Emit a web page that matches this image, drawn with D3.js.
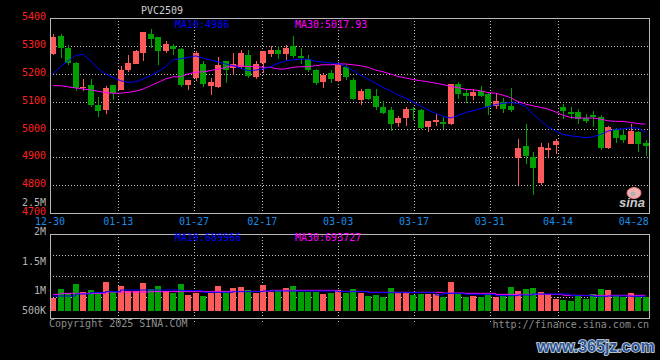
<!DOCTYPE html>
<html><head><meta charset="utf-8">
<script src="https://cdn.jsdelivr.net/npm/d3@7/dist/d3.min.js"></script>
<style>html,body{margin:0;padding:0;background:#000;}svg{display:block;}</style>
</head><body>
<svg id="chart" width="660" height="360"></svg>
<script>
const title = "PVC2509";
const dates = ["12-30","12-31","01-02","01-03","01-06","01-07","01-08","01-09","01-10","01-13","01-14","01-15","01-16","01-17","01-20","01-21","01-22","01-23","01-24","01-27",
"02-05","02-06","02-07","02-10","02-11","02-12","02-13","02-14","02-17","02-18","02-19","02-20","02-21","02-24","02-25","02-26","02-27","02-28",
"03-03","03-04","03-05","03-06","03-07","03-10","03-11","03-12","03-13","03-14","03-17","03-18","03-19","03-20","03-21","03-24","03-25","03-26","03-27","03-28","03-31",
"04-01","04-02","04-03","04-07","04-08","04-09","04-10","04-11","04-14","04-15","04-16","04-17","04-18","04-21","04-22","04-23","04-24","04-25","04-28","04-29","04-30"];
const open = [5270,5337,5292,5240,5151,5161,5089,5070,5158,5142, 5213,5234,5274,5344,5330,5280,5300,5287,5160,5184, 5234,5155,5151,5244,5220,5225,5268,5190,5240,5270, 5284,5270,5298,5262,5252,5213,5169,5201,5175,5223, 5179,5106,5144,5121,5082,5068,5023,5042,5074,5068, 5008,5026,5026,5019,5162,5130,5120,5137,5126,5084, 5100,5084,4898,4942,4901,4808,4926,4944,5081,5063, 5063,5040,5052,5046,4933,5001,4981,4948,4990,4951];
const close = [5330,5292,5237,5149,5154,5087,5066,5149,5130,5213, 5240,5280,5349,5326,5282,5308,5288,5161,5177,5273, 5163,5169,5232,5214,5234,5276,5193,5234,5280,5284, 5270,5294,5262,5255,5213,5166,5195,5181,5232,5187, 5110,5137,5110,5082,5058,5020,5042,5074,5068,5006, 5030,5034,5020,5162,5126,5120,5134,5120,5081,5102, 5073,5069,4933,4904,4862,4937,4933,4957,5067,5057, 5037,5029,5046,4933,5010,4969,4962,4995,4948,4942];
const high = [5342,5342,5304,5243,5181,5181,5116,5157,5160,5227, 5266,5284,5351,5362,5330,5318,5306,5291,5177,5282, 5246,5183,5261,5246,5276,5285,5285,5246,5280,5300, 5300,5304,5337,5292,5268,5216,5201,5213,5241,5232, 5185,5145,5144,5145,5101,5080,5050,5080,5080,5074, 5032,5056,5046,5164,5171,5142,5146,5156,5132,5130, 5114,5148,4966,5019,4918,4951,4951,4966,5091,5082, 5073,5057,5067,5052,5013,5004,5001,5019,4995,4963];
const low = [5268,5256,5232,5137,5139,5080,5044,5056,5106,5140, 5206,5234,5246,5292,5232,5274,5268,5151,5142,5175, 5151,5124,5149,5166,5199,5217,5185,5181,5201,5261, 5252,5249,5258,5235,5206,5161,5149,5168,5172,5177, 5106,5089,5104,5068,5056,4996,5008,5012,5035,5003, 4991,5011,5002,5015,5111,5096,5106,5118,5052,5075, 5060,5061,4802,4876,4766,4802,4900,4911,5037,5037, 5021,5023,5007,4927,4930,4951,4951,4947,4920,4906];
const ma10 = [5199,5226,5246,5266,5270,5246,5219,5199,5187,5175, 5169,5171,5181,5193,5207,5225,5250,5254,5258,5264, 5256,5249,5243,5235,5229,5220,5211,5213,5217,5225, 5237,5246,5250,5252,5252,5244,5242,5238,5237,5226, 5211,5195,5180,5166,5151,5139,5124,5113,5098,5085, 5070,5058,5047,5041,5050,5061,5067,5075,5082,5089, 5094,5096,5094,5082,5055,5031,5010,4994,4982,4977, 4974,4970,4974,4982,4994,5000,5002,5006,5005,4990];
const ma30 = [5157,5157,5153,5149,5145,5142,5137,5132,5130,5130, 5133,5137,5145,5157,5169,5181,5189,5189,5199,5205, 5207,5211,5217,5222,5228,5228,5226,5225,5223,5223, 5217,5217,5223,5225,5225,5229,5232,5232,5235,5235, 5232,5229,5223,5213,5207,5199,5190,5185,5179,5175, 5171,5166,5161,5155,5150,5144,5142,5139,5132,5130, 5123,5114,5100,5091,5085,5079,5073,5063,5051,5043, 5041,5041,5041,5037,5031,5029,5029,5025,5021,5019];
const volume = [555000,917000,738000,1138000,805000,875000,805000,1221000,805000,1042000, 846000,833000,1180000,904000,1042000,833000,738000,1125000,667000,738000, 638000,738000,1042000,833000,958000,1000000,875000,763000,1083000,805000, 875000,958000,1042000,805000,805000,805000,708000,738000,875000,738000, 917000,738000,638000,667000,596000,958000,779000,779000,667000,708000, 708000,708000,596000,1208000,738000,596000,638000,596000,708000,596000, 638000,1000000,833000,917000,958000,805000,708000,500000,458000,417000, 667000,500000,708000,917000,875000,667000,596000,750000,596000,596000];
const volMa10 = [625000,625000,625000,708000,708000,764000,764000,806000,806000,875000, 875000,875000,875000,875000,875000,875000,875000,847000,847000,847000, 778000,778000,778000,778000,806000,806000,806000,806000,833000,833000, 833000,833000,833000,833000,833000,833000,833000,833000,806000,806000, 806000,806000,764000,764000,764000,764000,764000,764000,764000,764000, 764000,667000,736000,736000,736000,694000,694000,694000,694000,639000, 639000,639000,667000,667000,708000,708000,708000,708000,708000,639000, 639000,639000,611000,611000,625000,625000,625000,611000,611000,611000];
const volMa30 = [694000,736000,736000,736000,736000,736000,736000,792000,792000,792000, 792000,792000,792000,806000,806000,806000,806000,806000,806000,806000, 806000,819000,819000,819000,819000,819000,819000,819000,819000,861000, 861000,861000,861000,861000,861000,861000,861000,861000,819000,819000, 819000,819000,778000,778000,778000,778000,778000,778000,778000,778000, 778000,778000,750000,750000,750000,736000,736000,736000,736000,694000, 694000,694000,694000,694000,694000,694000,694000,694000,653000,653000, 653000,653000,653000,653000,653000,653000,653000,653000,653000,653000];
const priceTicks = [5400,5300,5200,5100,5000,4900,4800,4700];
const volTicks = [2500000,2000000,1500000,1000000,500000];
const volTickLabels = ["2.5M","2M","1.5M","1M","500K"];
const dateTicks = ["12-30","01-13","01-27","02-17","03-03","03-17","03-31","04-14","04-28"];
const priceLegend = ["MA10:4986","MA30:5017.93"];
const volLegend = ["MA10:689966","MA30:693727"];
const copyright = "Copyright 2025 SINA.COM";
const siteUrl = "http://finance.sina.com.cn";
const watermark = "www.365jz.com";

const svg = d3.select("#chart");
const L = 50, R = 649.5;
const pTop = 18, pBot = 213, vTop = 234, vBot = 318, vBase = 311;
const UP = "#ff5a5a", DOWN = "#00a000", GRID = "#c4c4c4", BORDER = "#b8b8b8";
const FONT = "'DejaVu Sans Mono', monospace";

svg.append("rect").attr("width",660).attr("height",360).attr("fill","#000");

const xb = d3.scaleBand().domain(dates).range([50, 650]).padding(0);
const xp = d3.scalePoint().domain(dates).range([50, 649]);
const y = d3.scaleLinear().domain([4700, 5400]).range([pBot, pTop]);
const yv = d3.scaleLinear().domain([0, 1000000]).range([vBase, 287]);
const yvLabel = d3.scaleLinear().domain([1000000, 2000000]).range([290.7, 231.7]);

const crisp = v => Math.round(v) + 0.5;

// price grid
const g = svg.append("g");
g.selectAll(".hg").data(priceTicks.slice(1, -1)).join("line")
  .attr("x1", L).attr("x2", R).attr("y1", d => crisp(y(d))).attr("y2", d => crisp(y(d)))
  .attr("stroke", GRID).attr("stroke-dasharray", "1,2");
const innerDates = dateTicks.slice(1, -1);
g.selectAll(".vg").data(innerDates).join("line")
  .attr("x1", d => crisp(xp(d))).attr("x2", d => crisp(xp(d))).attr("y1", pTop).attr("y2", pBot)
  .attr("stroke", GRID).attr("stroke-dasharray", "1,2");
// volume grid
g.selectAll(".vhg").data([1500000, 1000000, 500000]).join("line")
  .attr("x1", L).attr("x2", R)
  .attr("y1", (d,i) => crisp(vTop + (vBot - vTop) * (i + 1) / 4)).attr("y2", (d,i) => crisp(vTop + (vBot - vTop) * (i + 1) / 4))
  .attr("stroke", GRID).attr("stroke-dasharray", "1,2");
g.selectAll(".vvg").data(innerDates).join("line")
  .attr("x1", d => crisp(xp(d))).attr("x2", d => crisp(xp(d))).attr("y1", vTop).attr("y2", vBot + 5)
  .attr("stroke", GRID).attr("stroke-dasharray", "1,2");

// candles
const idx = d3.range(dates.length);
const cg = svg.append("g").attr("shape-rendering", "crispEdges");
cg.selectAll(".wick").data(idx).join("rect")
  .attr("x", i => Math.round(xb(dates[i])) + 3).attr("width", 1)
  .attr("y", i => Math.round(y(high[i]))).attr("height", i => Math.max(1, Math.round(y(low[i])) - Math.round(y(high[i]))))
  .attr("fill", i => close[i] >= open[i] ? UP : DOWN);
cg.selectAll(".body").data(idx).join("rect")
  .attr("x", i => Math.round(xb(dates[i]))).attr("width", Math.round(xb.bandwidth() * 0.8))
  .attr("y", i => Math.round(y(Math.max(open[i], close[i]))))
  .attr("height", i => Math.max(1, Math.round(y(Math.min(open[i], close[i]))) - Math.round(y(Math.max(open[i], close[i])))))
  .attr("fill", i => close[i] >= open[i] ? UP : DOWN);

// MA lines
const cx = i => xb(dates[i]) + 3;
const lineP = arr => d3.line().x((d, i) => cx(i)).y(d => y(d))(arr);
svg.append("path").attr("d", lineP(ma30)).attr("fill", "none").attr("stroke", "#ff00ff").attr("stroke-width", 1);
svg.append("path").attr("d", lineP(ma10)).attr("fill", "none").attr("stroke", "#0000ff").attr("stroke-width", 1);

// volume bars
const vg = svg.append("g").attr("shape-rendering", "crispEdges");
vg.selectAll(".vb").data(idx).join("rect")
  .attr("x", i => Math.round(xb(dates[i]))).attr("width", Math.round(xb.bandwidth() * 0.8))
  .attr("y", i => Math.round(yv(volume[i]))).attr("height", i => vBase - Math.round(yv(volume[i])))
  .attr("fill", i => close[i] >= open[i] ? UP : DOWN);
const lineV = arr => d3.line().x((d, i) => cx(i)).y(d => yv(d)).curve(d3.curveStepAfter)(arr);
svg.append("path").attr("d", lineV(volMa30)).attr("fill", "none").attr("stroke", "#ff00ff").attr("stroke-width", 1);
svg.append("path").attr("d", lineV(volMa10)).attr("fill", "none").attr("stroke", "#0000ff").attr("stroke-width", 1);

// borders
svg.append("rect").attr("x", L + 0.5).attr("y", pTop + 0.5).attr("width", R - L - 0.5).attr("height", pBot - pTop)
  .attr("fill", "none").attr("stroke", BORDER);
svg.append("rect").attr("x", L + 0.5).attr("y", vTop + 0.5).attr("width", R - L - 0.5).attr("height", vBot - vTop)
  .attr("fill", "none").attr("stroke", BORDER);

// axis labels
const txt = svg.append("g").style("font-family", FONT).style("font-size", "10px");
txt.selectAll(".pl").data(priceTicks).join("text")
  .attr("x", 46).attr("y", d => y(d) - 1.3).attr("text-anchor", "end").attr("dominant-baseline", "central")
  .attr("fill", "#ff2222").text(d => d);
txt.selectAll(".vl").data(volTicks).join("text")
  .attr("x", 46).attr("y", d => Math.min(yvLabel(d), vBase - 0.3)).attr("text-anchor", "end").attr("dominant-baseline", "central")
  .attr("fill", "#b4b4b4").text((d, i) => volTickLabels[i]);
txt.selectAll(".dl").data(dateTicks).join("text")
  .attr("x", d => xp(d)).attr("y", 221).attr("text-anchor", "middle").attr("dominant-baseline", "central")
  .attr("fill", "#1a8ce6").text(d => d);

// legends
txt.append("text").attr("x", 175).attr("y", 24).attr("dominant-baseline", "central").attr("fill", "#0000ff").text(priceLegend[0]);
txt.append("text").attr("x", 295).attr("y", 24).attr("dominant-baseline", "central").attr("fill", "#ff00ff").text(priceLegend[1]);
txt.append("text").attr("x", 175).attr("y", 237).attr("dominant-baseline", "central").attr("fill", "#0000ff").text(volLegend[0]);
txt.append("text").attr("x", 295).attr("y", 237).attr("dominant-baseline", "central").attr("fill", "#ff00ff").text(volLegend[1]);

// title & footer
txt.append("text").attr("x", 141).attr("y", 10).attr("dominant-baseline", "central").attr("fill", "#cfcfcf").text(title);
txt.append("text").attr("x", 49).attr("y", 323.5).attr("dominant-baseline", "central").attr("fill", "#8c8c8c").text(copyright);
txt.append("text").attr("x", 649).attr("y", 324).attr("text-anchor", "end").attr("dominant-baseline", "central").attr("fill", "#8c8c8c").text(siteUrl);

// sina logo
const logo = svg.append("g");
logo.append("ellipse").attr("cx", 634).attr("cy", 193).attr("rx", 7).attr("ry", 5.5).attr("fill", "#f2b0b0").attr("stroke", "#f07a7a");
logo.append("circle").attr("cx", 633).attr("cy", 194).attr("r", 2.5).attr("fill", "#b0b0b0");
logo.append("text").attr("x", 619).attr("y", 207).attr("fill", "#c8c8c8")
  .style("font-family", "'Liberation Sans', Arial, sans-serif").style("font-weight", "bold").style("font-style", "italic").style("font-size", "13px")
  .text("sina");

// watermark
svg.append("text").attr("x", 537).attr("y", 352).attr("fill", "#2d5592").attr("stroke", "#d8e0ee").attr("stroke-width", 1.6)
  .attr("paint-order", "stroke")
  .style("font-family", "'Liberation Sans', Arial, sans-serif").style("font-weight", "bold").style("font-size", "16px")
  .text(watermark);
</script>
</body></html>
